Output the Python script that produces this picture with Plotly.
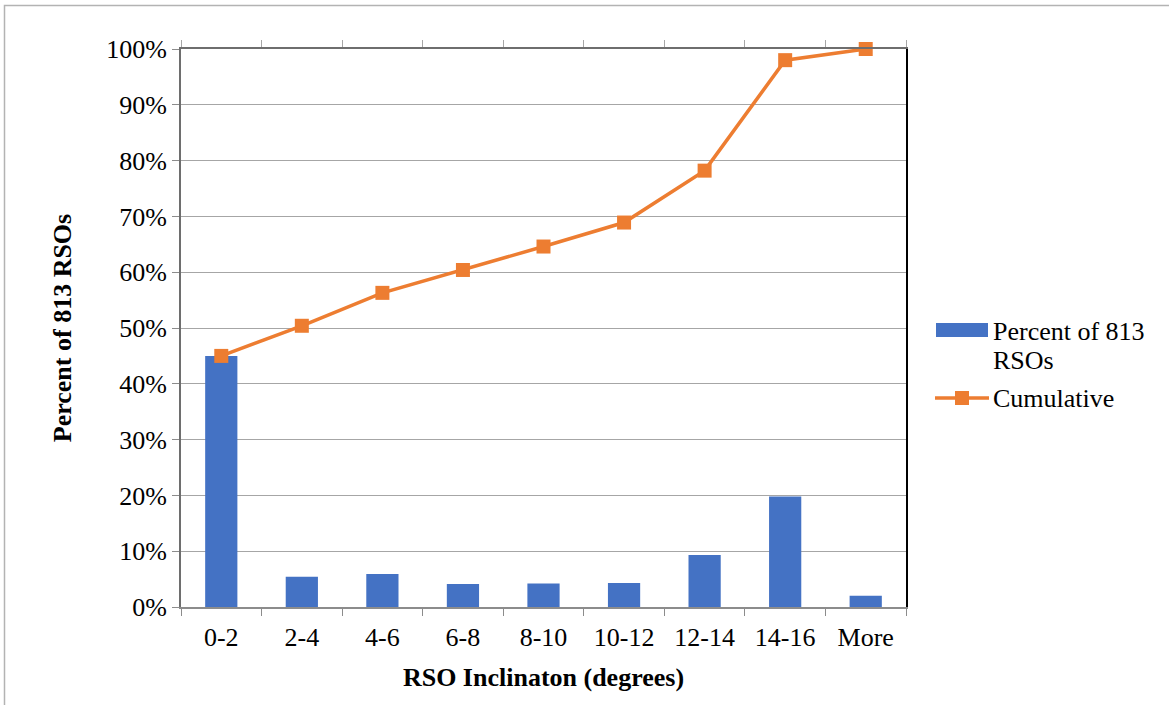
import plotly.graph_objects as go

# Inclination bins and share of the 813 tracked RSOs in each bin
bins = ["0-2", "2-4", "4-6", "6-8", "8-10", "10-12", "12-14", "14-16", "More"]
percent_of_rsos = [45.0, 5.4, 5.9, 4.1, 4.2, 4.3, 9.3, 19.8, 2.0]
cumulative = [45.0, 50.4, 56.3, 60.4, 64.6, 68.9, 78.2, 98.0, 100.0]

BLUE = "#4472C4"
ORANGE = "#ED7D31"
FONT = "Liberation Serif, Times New Roman, serif"
FS = 26

# plot-area geometry in pixels (used to place the hand-built legend)
W, H = 1169, 705
L, R, T, B = 181, 263, 49, 98
PW, PH = W - L - R, H - T - B

# both category axes span the full bins, half a slot of padding each side
cat_range = [-0.5, len(bins) - 0.5]


def px(x):
    return (x - L) / PW


def py(y):
    return (H - B - y) / PH


fig = go.Figure()

fig.add_trace(go.Bar(
    x=bins, y=percent_of_rsos,
    name="Percent of 813 RSOs",
    marker=dict(color=BLUE, line=dict(width=0)),
    showlegend=False,
))

fig.add_trace(go.Scatter(
    x=bins, y=cumulative,
    name="Cumulative",
    mode="lines+markers",
    line=dict(color=ORANGE, width=3.5),
    marker=dict(symbol="square", size=14, color=ORANGE),
    xaxis="x2", yaxis="y2",
    cliponaxis=False,
    showlegend=False,
))

shapes = [
    # outer chart frame
    dict(type="rect", xref="paper", yref="paper",
         x0=px(4.5), x1=px(1200), y0=py(760), y1=py(5.5),
         line=dict(color="#b3b3b3", width=1.5), fillcolor="rgba(0,0,0,0)",
         layer="below"),
    # legend key: bar series
    dict(type="rect", xref="paper", yref="paper",
         x0=px(936), x1=px(988), y0=py(337), y1=py(323),
         line=dict(width=0), fillcolor=BLUE),
    # legend key: cumulative line
    dict(type="line", xref="paper", yref="paper",
         x0=px(935), x1=px(989), y0=py(398), y1=py(398),
         line=dict(color=ORANGE, width=3.5)),
    dict(type="rect", xref="paper", yref="paper",
         x0=px(955), x1=px(969), y0=py(405), y1=py(391),
         line=dict(width=0), fillcolor=ORANGE),
]

legend_font = dict(family=FONT, size=FS, color="black")
annotations = [
    dict(text="Percent of 813", xref="paper", yref="paper",
         x=px(991), y=py(331), xanchor="left", yanchor="middle", align="left",
         showarrow=False, font=legend_font),
    dict(text="RSOs", xref="paper", yref="paper",
         x=px(991), y=py(361), xanchor="left", yanchor="middle", align="left",
         showarrow=False, font=legend_font),
    dict(text="Cumulative", xref="paper", yref="paper",
         x=px(991), y=py(398), xanchor="left", yanchor="middle", align="left",
         showarrow=False, font=legend_font),
]

fig.update_layout(
    width=W, height=H,
    margin=dict(l=L, r=R, t=T, b=B),
    paper_bgcolor="white", plot_bgcolor="white",
    font=dict(family=FONT, size=FS, color="black"),
    bargap=0.6,
    showlegend=False,
    xaxis=dict(
        type="category", tickson="boundaries", range=cat_range,
        ticks="outside", ticklen=7, tickcolor="#8c8c8c", tickwidth=1,
        showline=True, linecolor="#8c8c8c", linewidth=2,
        showgrid=False, tickfont=dict(size=FS), ticklabelstandoff=6,
        title=dict(text="<b>RSO Inclinaton (degrees)</b>", font=dict(size=FS), standoff=17),
    ),
    yaxis=dict(
        range=[0, 100], dtick=10, ticksuffix="%",
        ticks="outside", ticklen=7, tickcolor="#8c8c8c",
        showline=True, linecolor="#6e6e6e", linewidth=2,
        showgrid=True, gridcolor="#a6a6a6", gridwidth=1,
        zeroline=False, tickfont=dict(size=FS),
        title=dict(text="<b>Percent of 813 RSOs</b>", font=dict(size=FS), standoff=27),
    ),
    xaxis2=dict(
        type="category", overlaying="x", side="top", tickson="boundaries",
        range=cat_range,
        ticks="outside", ticklen=7, tickcolor="#a6a6a6",
        showline=True, linecolor="#6e6e6e", linewidth=2,
        showticklabels=False, showgrid=False,
    ),
    yaxis2=dict(
        range=[0, 100], overlaying="y", side="right",
        showline=True, linecolor="black", linewidth=2,
        ticks="", showticklabels=False, showgrid=False, zeroline=False,
    ),
    shapes=shapes,
    annotations=annotations,
)

fig.write_html("out.html")
